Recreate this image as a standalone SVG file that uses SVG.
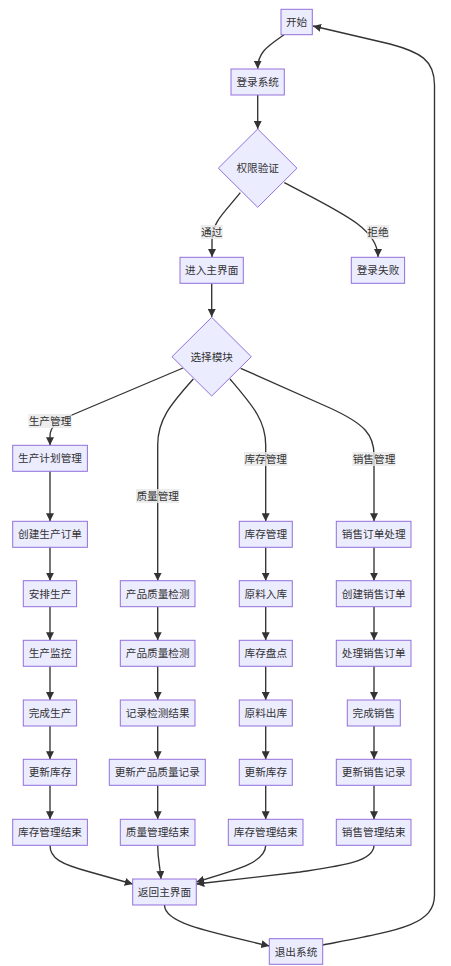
<svg xmlns="http://www.w3.org/2000/svg" width="451" height="966" viewBox="0 0 451 966">
<defs>
<marker id="arr" viewBox="0 0 10 10" refX="10" refY="5" markerWidth="8" markerHeight="8" markerUnits="userSpaceOnUse" orient="auto">
<path d="M0,0 L10,5 L0,10 z" fill="#333"/>
</marker>
</defs>
<style>
.n rect, .n polygon { fill: #ECECFF; stroke: #9370DB; stroke-width: 1; }
text { font-family: "Liberation Sans", "Noto Sans CJK SC", sans-serif; font-size: 10.67px; fill: #333; text-anchor: middle; dominant-baseline: central; }
.e path { fill: none; stroke: #333; stroke-width: 1.35; marker-end: url(#arr); }
.lb rect { fill: #e8e8e8; fill-opacity: 0.8; }
</style>
<rect width="451" height="966" fill="#fff"/>
<g id="edges" class="e">
<path d="M284,34.7 C268,46 257.7,52 257.7,68.7"/>
<path d="M257.7,95 L257.7,129"/>
<path d="M240.3,192.7 C225,212 212,222 212,240 L212,257"/>
<path d="M284.3,182.7 C340,212 378,228 378,257"/>
<path d="M211.7,283.3 L211.7,317"/>
<path d="M183,368 L72,415 C55,422 50,428 50,436 L50,445.3"/>
<path d="M193.3,379 C170,405 157.7,420 157.7,445 L157.7,580.7"/>
<path d="M230,379 C252,405 265.7,420 265.7,445 L265.7,521.3"/>
<path d="M240.7,368.3 L330,408 C365,424 374,435 374,455 L374,521.3"/>
<path d="M50,471.3 L50,521.3"/>
<path d="M50,547.3 L50,580.7"/>
<path d="M50,606.7 L50,640.3"/>
<path d="M50,666.3 L50,700"/>
<path d="M50,726 L50,759.3"/>
<path d="M50,785.3 L50,819.3"/>
<path d="M157.7,606.7 L157.7,640.3"/>
<path d="M157.7,666.3 L157.7,700"/>
<path d="M157.7,726 L157.7,759.3"/>
<path d="M157.7,785.3 L157.7,819.3"/>
<path d="M265.7,547.3 L265.7,580.7"/>
<path d="M265.7,606.7 L265.7,640.3"/>
<path d="M265.7,666.3 L265.7,700"/>
<path d="M265.7,726 L265.7,759.3"/>
<path d="M265.7,785.3 L265.7,819.3"/>
<path d="M374,547.3 L374,580.7"/>
<path d="M374,606.7 L374,640.3"/>
<path d="M374,666.3 L374,700"/>
<path d="M374,726 L374,759.3"/>
<path d="M374,785.3 L374,819.3"/>
<path d="M50,845.3 C50,858 60,864 90,872 L132.7,884"/>
<path d="M157.7,845.3 C157.7,860 160,866 161,879"/>
<path d="M265.7,845.3 C265.7,862 240,869 196.3,882"/>
<path d="M374,845.3 C374,862 340,866 300,872 L196.3,884"/>
<path d="M164.5,905 C164.5,922 200,930 269.3,946"/>
<path d="M322.7,945 C400,930 434.5,925 434.5,895 L434.5,85 C434.5,60 420,52 390,44 L313,26"/>
</g>
<g id="edge-labels" class="lb">
<g><rect x="200.7" y="225" width="22" height="14"/><text x="211.7" y="232">通过</text></g>
<g><rect x="367" y="225" width="22" height="14"/><text x="378" y="232">拒绝</text></g>
<g><rect x="28.3" y="414" width="43.3" height="14"/><text x="50" y="421">生产管理</text></g>
<g><rect x="136" y="489" width="43.3" height="14"/><text x="157.7" y="496">质量管理</text></g>
<g><rect x="244" y="452" width="43.3" height="14"/><text x="265.7" y="459">库存管理</text></g>
<g><rect x="352.3" y="452" width="43.3" height="14"/><text x="374" y="459">销售管理</text></g>
</g>
<g id="start" class="n"><rect x="281" y="9.3" width="31.3" height="25.4"/><text x="296.6" y="22">开始</text></g>
<g id="login" class="n"><rect x="231" y="69" width="53.3" height="26"/><text x="257.7" y="82">登录系统</text></g>
<g id="auth" class="n"><polygon points="257.7,129 297,168.2 257.7,207.3 218.3,168.2"/><text x="257.7" y="168.2">权限验证</text></g>
<g id="main" class="n"><rect x="180" y="257.3" width="63.3" height="26"/><text x="211.7" y="270.3">进入主界面</text></g>
<g id="fail" class="n"><rect x="351.3" y="257.3" width="53.3" height="26"/><text x="378" y="270.3">登录失败</text></g>
<g id="select" class="n"><polygon points="211.7,317.3 251.3,356.7 211.7,396 172,356.7"/><text x="211.7" y="356.7">选择模块</text></g>
<g id="a0" class="n"><rect x="12.7" y="445.3" width="74.7" height="26"/><text x="50" y="458.3">生产计划管理</text></g>
<g id="a1" class="n"><rect x="12.7" y="521.3" width="74.7" height="26"/><text x="50" y="534.3">创建生产订单</text></g>
<g id="a2" class="n"><rect x="23.3" y="580.7" width="53.3" height="26"/><text x="50" y="593.7">安排生产</text></g>
<g id="a3" class="n"><rect x="23.3" y="640.3" width="53.3" height="26"/><text x="50" y="653.3">生产监控</text></g>
<g id="a4" class="n"><rect x="23.3" y="700" width="53.3" height="26"/><text x="50" y="713">完成生产</text></g>
<g id="a5" class="n"><rect x="23.3" y="759.3" width="53.3" height="26"/><text x="50" y="772.3">更新库存</text></g>
<g id="a6" class="n"><rect x="12.7" y="819.3" width="74.7" height="26"/><text x="50" y="832.3">库存管理结束</text></g>
<g id="b1" class="n"><rect x="120.3" y="580.7" width="74.7" height="26"/><text x="157.7" y="593.7">产品质量检测</text></g>
<g id="b2" class="n"><rect x="120.3" y="640.3" width="74.7" height="26"/><text x="157.7" y="653.3">产品质量检测</text></g>
<g id="b3" class="n"><rect x="120.3" y="700" width="74.7" height="26"/><text x="157.7" y="713">记录检测结果</text></g>
<g id="b4" class="n"><rect x="109.3" y="759.3" width="96" height="26"/><text x="157.3" y="772.3">更新产品质量记录</text></g>
<g id="b5" class="n"><rect x="120.3" y="819.3" width="74.7" height="26"/><text x="157.7" y="832.3">质量管理结束</text></g>
<g id="c1" class="n"><rect x="239.3" y="521.3" width="53" height="26"/><text x="265.8" y="534.3">库存管理</text></g>
<g id="c2" class="n"><rect x="239.3" y="580.7" width="53" height="26"/><text x="265.8" y="593.7">原料入库</text></g>
<g id="c3" class="n"><rect x="239.3" y="640.3" width="53" height="26"/><text x="265.8" y="653.3">库存盘点</text></g>
<g id="c4" class="n"><rect x="239.3" y="700" width="53" height="26"/><text x="265.8" y="713">原料出库</text></g>
<g id="c5" class="n"><rect x="239.3" y="759.3" width="53" height="26"/><text x="265.8" y="772.3">更新库存</text></g>
<g id="c6" class="n"><rect x="228.3" y="819.3" width="74.7" height="26"/><text x="265.7" y="832.3">库存管理结束</text></g>
<g id="d1" class="n"><rect x="336.3" y="521.3" width="74.7" height="26"/><text x="373.7" y="534.3">销售订单处理</text></g>
<g id="d2" class="n"><rect x="336.3" y="580.7" width="74.7" height="26"/><text x="373.7" y="593.7">创建销售订单</text></g>
<g id="d3" class="n"><rect x="336.3" y="640.3" width="74.7" height="26"/><text x="373.7" y="653.3">处理销售订单</text></g>
<g id="d4" class="n"><rect x="347.3" y="700" width="53" height="26"/><text x="373.8" y="713">完成销售</text></g>
<g id="d5" class="n"><rect x="336.3" y="759.3" width="74.7" height="26"/><text x="373.7" y="772.3">更新销售记录</text></g>
<g id="d6" class="n"><rect x="336.3" y="819.3" width="74.7" height="26"/><text x="373.7" y="832.3">销售管理结束</text></g>
<g id="back" class="n"><rect x="132.7" y="879" width="63.6" height="26"/><text x="164.5" y="892">返回主界面</text></g>
<g id="exit" class="n"><rect x="269.3" y="938.7" width="53.4" height="25.6"/><text x="296" y="951.5">退出系统</text></g>
</svg>
